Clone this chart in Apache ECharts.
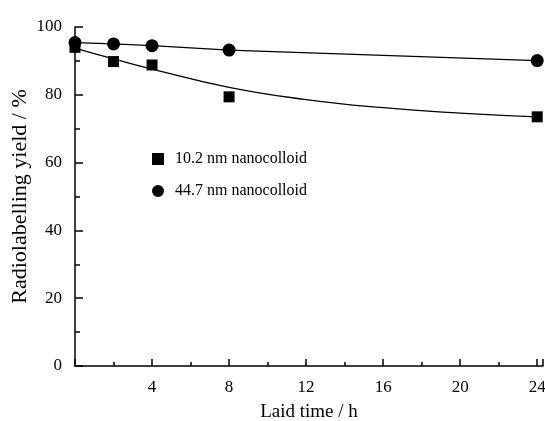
<!DOCTYPE html>
<html>
<head>
<meta charset="utf-8">
<script src="https://cdn.jsdelivr.net/npm/echarts@6/dist/echarts.min.js"></script>
<style>html,body{margin:0;padding:0;background:#fff}#c{width:545px;height:421px}</style>
</head>
<body>
<div id="c"></div>
<script>
const timesH = [0, 2, 4, 8, 24];
const small = [94.0, 89.8, 88.8, 79.4, 73.5];   // 10.2 nm nanocolloid
const large = [95.4, 95.0, 94.5, 93.2, 90.1];   // 44.7 nm nanocolloid
const fitTimes = [0, 2, 4, 8, 12, 16, 20, 24];
const smallFit = [93.8, 90.6, 87.6, 82.2, 78.6, 76.2, 74.6, 73.5];
const xTicks = [4, 8, 12, 16, 20, 24];
const yTicks = [0, 20, 40, 60, 80, 100];
const names = ['10.2 nm nanocolloid', '44.7 nm nanocolloid'];

const pair = (xs, ys) => xs.map((x, i) => [x, ys[i]]);
const font = '"Liberation Serif", "Times New Roman", serif';
const chart = echarts.init(document.getElementById('c'));
chart.setOption({
  animation: false,
  backgroundColor: '#fff',
  textStyle: { fontFamily: font, color: '#000' },
  grid: { left: 75, right: 2, top: 27, bottom: 55, containLabel: false, outerBoundsMode: 'none' },
  legend: {
    left: 147, top: 146, orient: 'vertical', itemGap: 16,
    itemWidth: 12, itemHeight: 12,
    textStyle: { fontFamily: font, fontSize: 16, color: '#000', padding: [0, 0, 0, 6] },
    data: [{ name: names[0], icon: 'rect', itemStyle: { color: '#000', opacity: 1 } },
           { name: names[1], icon: 'circle', itemStyle: { color: '#000', opacity: 1 } }]
  },
  xAxis: {
    type: 'value', min: 0, max: 24.3, interval: 4,
    name: 'Laid time / h', nameLocation: 'middle', nameGap: 37,
    nameTextStyle: { fontFamily: font, fontSize: 19, color: '#000' },
    axisLine: { lineStyle: { color: '#000', width: 1.5 } },
    axisTick: { inside: true, length: 7, lineStyle: { color: '#000', width: 1.5 } },
    minorTick: { show: true, splitNumber: 2, length: 4, lineStyle: { color: '#000', width: 1.5 } },
    axisLabel: {
      fontFamily: font, fontSize: 17, color: '#000', margin: 13,
      formatter: v => (xTicks.indexOf(v) >= 0 ? String(v) : '')
    },
    splitLine: { show: false }
  },
  yAxis: {
    type: 'value', min: 0, max: 100, interval: 20,
    name: 'Radiolabelling yield / %', nameLocation: 'middle', nameGap: 44, nameRotate: 90,
    nameMoveOverlap: false,
    nameTextStyle: { fontFamily: font, fontSize: 22, color: '#000' },
    axisLine: { lineStyle: { color: '#000', width: 1.5 } },
    axisTick: { inside: true, length: 8, lineStyle: { color: '#000', width: 1.5 } },
    minorTick: { show: true, splitNumber: 2, length: 5, lineStyle: { color: '#000', width: 1.5 } },
    axisLabel: {
      fontFamily: font, fontSize: 17, color: '#000', margin: 13,
      formatter: v => (yTicks.indexOf(v) >= 0 ? String(v) : '')
    },
    splitLine: { show: false }
  },
  series: [
    {
      name: 'fit', type: 'line', smooth: true, data: pair(fitTimes, smallFit),
      showSymbol: false, symbol: 'none', lineStyle: { color: '#000', width: 1.3 },
      silent: true, z: 2
    },
    {
      name: names[0], type: 'scatter', data: pair(timesH, small),
      symbol: 'rect', symbolSize: 11, itemStyle: { color: '#000', opacity: 1 }, z: 3
    },
    {
      name: names[1], type: 'line', data: pair(timesH, large),
      symbol: 'circle', symbolSize: 13, showAllSymbol: true,
      itemStyle: { color: '#000', opacity: 1 }, lineStyle: { color: '#000', width: 1.3 }, z: 3
    }
  ]
});
</script>
</body>
</html>
